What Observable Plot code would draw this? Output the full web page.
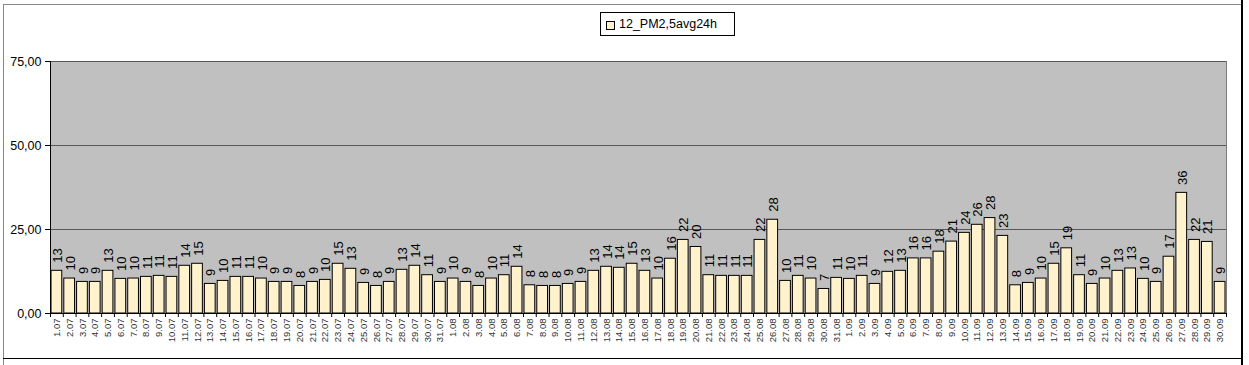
<!DOCTYPE html>
<html><head><meta charset="utf-8">
<script src="https://cdn.jsdelivr.net/npm/d3@7"></script>
<script src="https://cdn.jsdelivr.net/npm/@observablehq/plot@0.6"></script>
<style>
body{margin:0;background:#fff;font-family:Arial,"Liberation Sans",sans-serif;}
#wrap{position:relative;width:1249px;height:365px;overflow:hidden;}
.ln{position:absolute;}
#legend{position:absolute;left:600px;top:12px;width:135px;height:24px;border:1px solid #000;background:#fff;box-sizing:border-box;}
#legend .sw{position:absolute;left:5px;top:8px;width:7px;height:7px;border:1px solid #000;background:#fff2cc;}
#legend .tx{position:absolute;left:18px;top:4px;font-size:12.5px;color:#000;white-space:nowrap;}
</style></head>
<body>
<div id="wrap">
  <div id="chart"></div>
  <div class="ln" style="left:3px;top:4px;width:1px;height:361px;background:#888"></div>
  <div class="ln" style="left:3px;top:4px;width:1238px;height:1px;background:#888"></div>
  <div class="ln" style="left:1241px;top:0;width:2px;height:365px;background:#000"></div>
  <div class="ln" style="left:3px;top:358px;width:1240px;height:1px;background:#000"></div>
  <div id="legend"><div class="sw"></div><div class="tx">12_PM2,5avg24h</div></div>
</div>
<script>
const dates = [
 "1.07","2.07","3.07","4.07","5.07","6.07","7.07","8.07","9.07","10.07","11.07","12.07","13.07","14.07","15.07","16.07","17.07","18.07","19.07","20.07","21.07","22.07","23.07","24.07","25.07","26.07","27.07","28.07","29.07","30.07","31.07",
 "1.08","2.08","3.08","4.08","5.08","6.08","7.08","8.08","9.08","10.08","11.08","12.08","13.08","14.08","15.08","16.08","17.08","18.08","19.08","20.08","21.08","22.08","23.08","24.08","25.08","26.08","27.08","28.08","29.08","30.08","31.08",
 "1.09","2.09","3.09","4.09","5.09","6.09","7.09","8.09","9.09","10.09","11.09","12.09","13.09","14.09","15.09","16.09","17.09","18.09","19.09","20.09","21.09","22.09","23.09","24.09","25.09","26.09","27.09","28.09","29.09","30.09"
];
const julyValues = [12.7,10.4,9.4,9.4,12.7,10.3,10.4,10.9,11.2,10.9,14.2,14.8,8.8,9.7,10.9,10.9,10.4,9.4,9.4,8.2,9.4,10.0,14.8,13.3,9.1,8.2,9.4,13.0,14.2,11.4,9.4];
const augustValues = [10.4,9.4,8.2,10.4,11.4,13.9,8.4,8.2,8.2,8.8,9.4,12.7,13.9,13.6,14.8,12.7,10.4,16.3,21.9,19.8,11.4,11.2,11.2,11.2,21.9,27.9,9.7,11.2,10.4,7.3,10.6];
const septemberValues = [10.3,11.2,8.8,12.4,12.7,16.4,16.4,18.4,21.4,24.0,26.4,28.4,23.1,8.4,9.1,10.4,14.8,19.4,11.4,8.8,10.4,12.7,13.4,10.3,9.4,16.9,35.9,21.9,21.3,9.4];
const yTicks = [0,25,50,75];
const seriesName = "12_PM2,5avg24h";

const values = [...julyValues, ...augustValues, ...septemberValues];
const data = dates.map((d,i)=>({date:d, value:values[i]}));
const W = 1249, H = 365, mL = 50, mR = 23, mT = 61, mB = 52;
const step = (W - mL - mR) / dates.length;
const yFmt = d => d3.format(".2f")(d).replace(".", ",");
const lblFmt = d3.format(".0f");

const chart = Plot.plot({
  width: W, height: H,
  marginLeft: mL, marginRight: mR, marginTop: mT, marginBottom: mB,
  style: {fontFamily: "Arial, 'Liberation Sans', sans-serif", background: "transparent", color: "#000"},
  x: {domain: dates, paddingInner: 0.16, paddingOuter: 0.08, label: null},
  y: {domain: [0, 75], label: null},
  marks: [
    Plot.frame({fill: "#c0c0c0", stroke: "#7a7a7a"}),
    Plot.gridY(yTicks.filter(d => d > 0), {stroke: "#585858", strokeOpacity: 1}),
    Plot.barY(data, {x: "date", y: "value", fill: "#fff2cc", stroke: "#000", strokeWidth: 1}),
    Plot.text(data, {x: "date", y: "value", text: d => lblFmt(d.value), rotate: -90, textAnchor: "start", dy: -8, dx: 1, fontSize: 13, fill: "#000"}),
    Plot.ruleY([0], {stroke: "#000"}),
    Plot.ruleX([dates[0]], {dx: -step/2, stroke: "#000"}),
    Plot.axisX({ticks: dates, tickSize: 4, tickFormat: () => "", dx: -step/2, stroke: "#000"}),
    Plot.axisX({ticks: [dates[dates.length-1]], tickSize: 4, tickFormat: () => "", dx: step/2, stroke: "#000"}),
    Plot.axisX({ticks: dates, tickSize: 0, tickPadding: 5, tickRotate: -90, fontSize: 9.5, label: null, fill: "#333"}),
    Plot.axisY({ticks: yTicks, tickSize: 5, tickPadding: 4, tickFormat: yFmt, fontSize: 12.5, label: null, stroke: "#000"})
  ]
});
document.getElementById("chart").appendChild(chart);
</script>
</body></html>
